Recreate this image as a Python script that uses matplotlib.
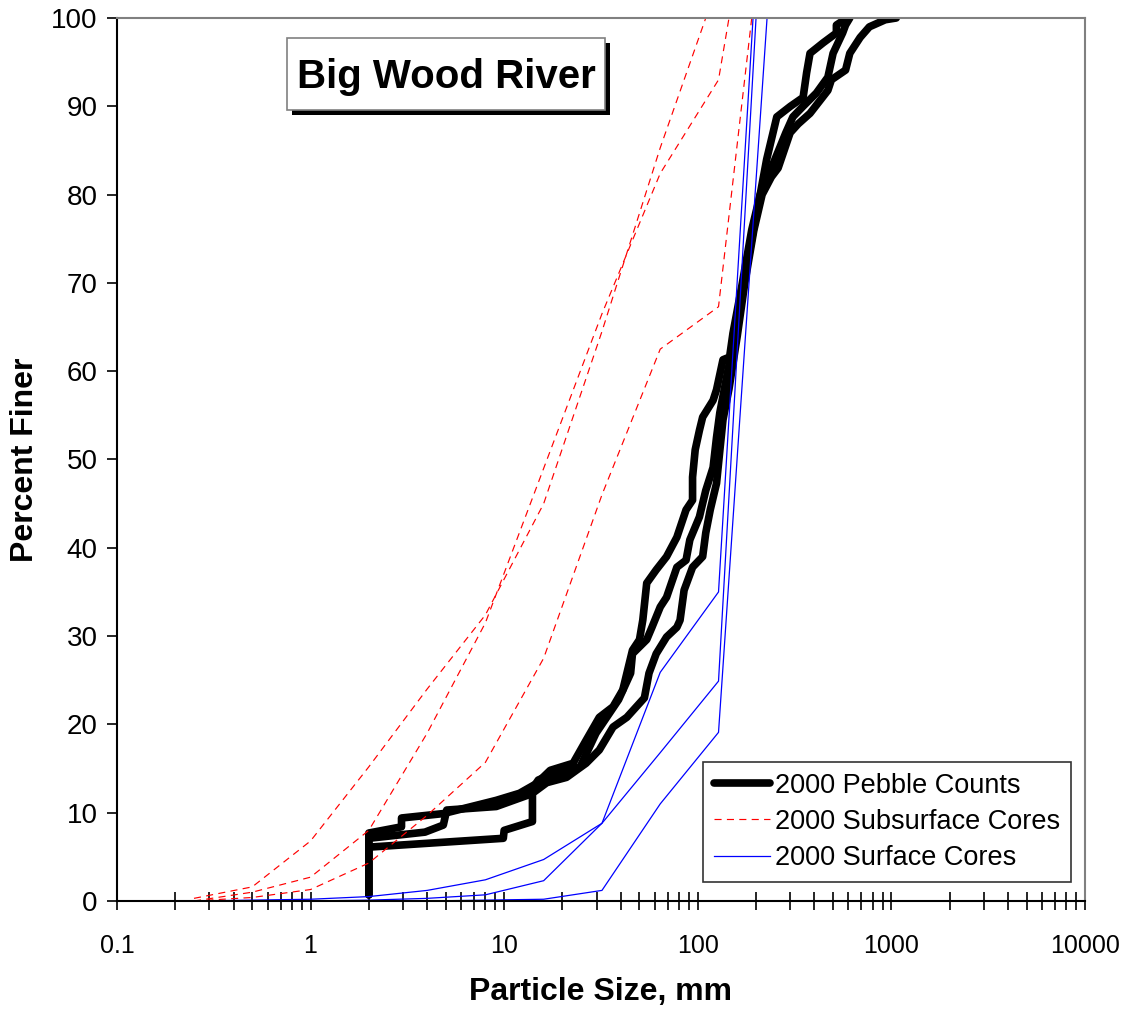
import matplotlib.pyplot as plt
from matplotlib import patheffects
from matplotlib.patches import Rectangle
from matplotlib.ticker import FixedLocator, LogLocator, NullFormatter, FuncFormatter

plt.rcParams['font.family'] = ['Liberation Sans', 'DejaVu Sans']

# 2000 pebble counts (size mm, percent finer)
peb1_mm = [2, 2, 2.95, 2.95, 4.85, 9.1, 12, 14.7, 17.3, 22.7, 26.5, 31, 36.5, 41, 46, 50, 52, 54.5,
           61, 69, 78, 87, 94, 94, 97, 102, 106, 120, 125, 135, 146, 152, 170, 190, 210, 227,
           256, 301, 350, 365, 380, 445, 520, 520, 590]
peb1_pct = [0.7, 7.7, 8.4, 9.4, 9.9, 11.4, 12.2, 13.3, 14.8, 15.6, 18.2, 20.8, 22, 23.9, 28.4, 29.6,
            31.8, 36, 37.5, 39, 41.2, 44.3, 45.4, 48, 51.1, 53.3, 54.8, 56.7, 57.9, 61.3, 61.6, 64.3,
            70, 76, 80, 84, 88.8, 90, 91, 93.8, 96, 97.2, 98.3, 99.2, 100]

peb2_mm = [2, 2, 3.9, 4.85, 5.05, 9.1, 13.3, 15, 17.3, 24.7, 29.8, 39, 45, 46, 54.5, 58, 64, 69,
           78, 87, 91, 102, 110, 120, 125, 130, 140, 152, 170, 190, 210, 240, 285, 310, 350, 410,
           470, 500, 560, 580, 610]
peb2_pct = [0.7, 7.1, 7.8, 8.6, 10.3, 10.7, 12, 13.7, 14.3, 15.2, 19, 22.8, 25.8, 28, 29.6, 31, 33.3,
            34.4, 37.8, 38.6, 40.9, 43.5, 46.5, 49.1, 52.5, 55.3, 59, 63, 69, 75, 80, 83, 87, 88.8,
            90, 91.5, 93.3, 96, 98.3, 99.2, 100]

peb3_mm = [2, 2, 9.9, 10, 14, 14, 16.6, 21, 26.5, 31, 36.5, 43, 53, 56, 61, 69, 78, 81, 85, 94,
           106, 110, 116, 125, 130, 135, 145, 160, 175, 195, 215, 240, 260, 300, 330, 380, 470,
           490, 580, 610, 690, 770, 930, 1060]
peb3_pct = [0.7, 6.1, 7.1, 8, 9, 12.2, 13.4, 14, 15.6, 17.1, 19.7, 20.8, 23, 25.8, 28, 29.9, 31,
            31.8, 35.2, 37.8, 39, 41.7, 44.3, 47.3, 51, 54.5, 58, 64, 70, 76, 80, 82, 83, 87, 88,
            89.2, 91.8, 93, 94.1, 96, 97.8, 99, 99.8, 100]

# 2000 subsurface cores
sub1_mm = [0.25, 0.5, 1, 2, 4, 8, 16, 32, 64, 110]
sub1_pct = [0.3, 1.6, 6.8, 15.2, 24, 32.4, 45, 64.5, 85.3, 100]
sub2_mm = [0.25, 0.5, 1, 2, 4, 8, 16, 32, 64, 128, 145]
sub2_pct = [0, 1, 2.7, 8, 19, 31.5, 49, 66.5, 82.4, 93, 100]
sub3_mm = [0.25, 0.5, 1, 2, 4, 8, 16, 32, 64, 128, 190]
sub3_pct = [0, 0.4, 1.3, 4.3, 9.7, 15.7, 27.5, 46, 62.5, 67.3, 100]

# 2000 surface cores
surf1_mm = [0.25, 1, 2, 4, 8, 16, 32, 64, 128, 193]
surf1_pct = [0, 0.2, 0.5, 1.2, 2.4, 4.7, 8.8, 25.9, 35, 100]
surf2_mm = [0.25, 1, 2, 4, 8, 16, 32, 64, 128, 200]
surf2_pct = [0, 0, 0.1, 0.3, 0.7, 2.3, 8.8, 16.8, 24.9, 100]
surf3_mm = [0.25, 1, 2, 4, 8, 16, 32, 64, 128, 228]
surf3_pct = [0, 0, 0, 0, 0.1, 0.2, 1.2, 11, 19.1, 100]

fig = plt.figure(figsize=(11.31, 10.11), dpi=100)
ax = fig.add_axes([0.1034, 0.1088, 0.8559, 0.8734])

peb_style = dict(color='black', lw=5.5, solid_capstyle='round', solid_joinstyle='round')
ax.plot(peb1_mm, peb1_pct, label='2000 Pebble Counts', **peb_style)
ax.plot(peb2_mm, peb2_pct, **peb_style)
ax.plot(peb3_mm, peb3_pct, **peb_style)

dash = (0, (6, 4.5))
ax.plot(sub1_mm, sub1_pct, color='red', lw=0.85, ls=dash, label='2000 Subsurface Cores')
ax.plot(sub2_mm, sub2_pct, color='red', lw=0.85, ls=dash)
ax.plot(sub3_mm, sub3_pct, color='red', lw=0.85, ls=dash)

ax.plot(surf1_mm, surf1_pct, color='blue', lw=0.9, label='2000 Surface Cores')
ax.plot(surf2_mm, surf2_pct, color='blue', lw=0.9)
ax.plot(surf3_mm, surf3_pct, color='blue', lw=0.9)

ax.set_xscale('log')
ax.set_xlim(0.1, 10000)
ax.set_ylim(0, 100)

ax.xaxis.set_major_locator(FixedLocator([0.1, 1, 10, 100, 1000, 10000]))
ax.xaxis.set_major_formatter(FuncFormatter(lambda v, p: '%g' % v))
ax.xaxis.set_minor_locator(LogLocator(base=10, subs=range(2, 10), numticks=20))
ax.xaxis.set_minor_formatter(NullFormatter())
ax.set_yticks(range(0, 101, 10))

ax.tick_params(axis='x', which='both', direction='inout', length=13, width=1.2,
               labelsize=18, pad=17, colors='black')
ax.tick_params(axis='y', direction='out', length=7, width=1.2, labelsize=20, pad=7)

for s in ['left', 'bottom']:
    ax.spines[s].set_color('black')
    ax.spines[s].set_linewidth(1.5)
for s in ['top', 'right']:
    ax.spines[s].set_color('#808080')
    ax.spines[s].set_linewidth(1.5)

ax.set_xlabel('Particle Size, mm', fontsize=23, fontweight='bold', labelpad=14)
ax.set_ylabel('Percent Finer', fontsize=23, fontweight='bold', labelpad=8)

# title box with drop shadow
box = Rectangle((0.1756, 0.8958), 0.3285, 0.0815, transform=ax.transAxes,
                fc='white', ec='#808080', lw=1.2, zorder=5)
box.set_path_effects([
    patheffects.SimplePatchShadow(offset=(3.5, -3.5), shadow_rgbFace='black', alpha=1),
    patheffects.Normal()])
ax.add_patch(box)
ax.text(0.1756 + 0.3285 / 2, 0.8958 + 0.0815 / 2 - 0.003, 'Big Wood River',
        transform=ax.transAxes, ha='center', va='center', fontsize=29,
        fontweight='bold', zorder=6)

leg = ax.legend(loc='lower right', bbox_to_anchor=(0.9855, 0.0215), fontsize=19.5,
                frameon=True, fancybox=False, edgecolor='black', borderaxespad=0,
                handlelength=2.05, handletextpad=0.2, labelspacing=0.38, borderpad=0.4)
leg.get_frame().set_linewidth(1.2)

fig.savefig('out.png', dpi=100)
